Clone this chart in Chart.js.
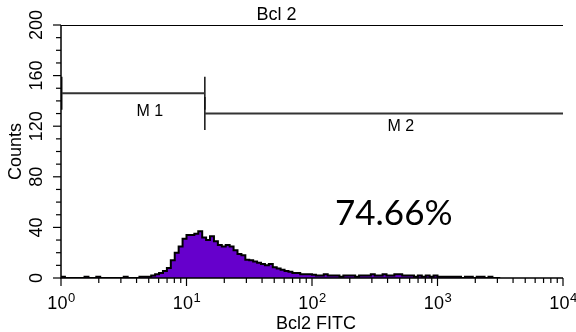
<!DOCTYPE html>
<html>
<head>
<meta charset="utf-8">
<script src="https://cdn.jsdelivr.net/npm/chart.js@4.4.1/dist/chart.umd.min.js"></script>
<style>
  html, body { margin: 0; padding: 0; background: #fff; }
  #wrap { width: 576px; height: 332px; position: relative; }
</style>
</head>
<body>
<div id="wrap"><canvas id="myChart"></canvas></div>
<script>
// histogram channels, 32 channels per decade starting at 10^0
var binsPerDecade = 32;
var counts = [
  1, 0, 0, 0, 0, 0, 1, 0, 0, 1, 0, 0, 0, 0, 0, 0,
  1, 0, 0, 0, 1, 1, 1, 2, 3, 4, 5.5, 8, 14, 20, 25, 31,
  34, 34, 35, 37, 32, 30, 33, 29, 26, 25, 26, 25, 22, 19, 18, 14.5,
  14, 13, 12, 11, 10, 11, 8.5, 7.5, 6.5, 5.5, 5, 4, 4, 3, 3, 3,
  2.5, 2, 2, 3, 2, 2, 2, 1, 2, 2, 2, 1, 2, 2, 2, 3,
  2, 2, 3, 2, 2, 3, 3, 2, 2, 2, 1, 2, 1, 2, 1, 2,
  1, 1, 1, 1, 1, 1, 0, 1, 1, 0, 1, 1, 0, 1, 0, 0
];

// gates
var markerNames = ["M 1", "M 2"];
var markerFrom = [1, 14];
var markerTo = [14, 10000];
var markerLevel = [146, 130];

// axes
var xTicks = [1, 10, 100, 1000, 10000];
var xTickExp = ["0", "1", "2", "3", "4"];
var yTicks = [0, 40, 80, 120, 160, 200];
var yTickLabels = ["0", "40", "80", "120", "160", "200"];

var chartTitle = "Bcl 2";
var xTitle = "Bcl2 FITC";
var yTitle = "Counts";
var gatePercent = "74.66%";

var points = [];
for (var i = 0; i < counts.length; i++) {
  points.push({x: Math.pow(10, i / binsPerDecade), y: counts[i]});
}
points.push({x: Math.pow(10, counts.length / binsPerDecade), y: 0});

var datasets = [{
  data: points,
  stepped: true,
  fill: 'origin',
  backgroundColor: '#6600cc',
  borderColor: '#000',
  borderWidth: 2,
  pointRadius: 0,
  order: 1
}];

// marker lines and their end bars
for (var m = 0; m < markerNames.length; m++) {
  datasets.push({
    data: [{x: markerFrom[m], y: markerLevel[m]}, {x: markerTo[m], y: markerLevel[m]}],
    borderColor: '#333', borderWidth: 2, pointRadius: 0, fill: false, order: 2
  });
  datasets.push({
    data: [{x: markerFrom[m], y: markerLevel[m] - 13}, {x: markerFrom[m], y: markerLevel[m] + 13}],
    borderColor: '#111', borderWidth: m == 0 ? 3 : 1.5, pointRadius: 0, fill: false, order: 2
  });
  if (markerTo[m] < 10000) {
    datasets.push({
      data: [{x: markerTo[m], y: markerLevel[m] - 13}, {x: markerTo[m], y: markerLevel[m] + 13}],
      borderColor: '#111', borderWidth: 1.5, pointRadius: 0, fill: false, order: 2
    });
  }
}

var markerLabelDy = [23, 17];

var flowAxes = {
  id: 'flowAxes',
  afterDraw: function(chart) {
    var ctx = chart.ctx;
    var a = chart.chartArea;
    var xs = chart.scales.x, ys = chart.scales.y;
    var i, px, py;
    ctx.save();
    ctx.strokeStyle = '#000';
    ctx.fillStyle = '#000';

    // frame: left + bottom axis, thin line on top
    ctx.lineWidth = 1.5;
    ctx.beginPath();
    ctx.moveTo(a.left, a.top);
    ctx.lineTo(a.left, a.bottom);
    ctx.lineTo(a.right, a.bottom);
    ctx.stroke();
    ctx.lineWidth = 1;
    ctx.beginPath();
    ctx.moveTo(a.left, a.top + 0.5);
    ctx.lineTo(a.right, a.top + 0.5);
    ctx.stroke();

    // y ticks, every 10, long ones at labels
    ctx.lineWidth = 1.2;
    for (var v = 0; v <= 200; v += 10) {
      py = ys.getPixelForValue(v);
      var len = (yTicks.indexOf(v) >= 0) ? 8 : 5;
      ctx.beginPath();
      ctx.moveTo(a.left - len, py);
      ctx.lineTo(a.left, py);
      ctx.stroke();
    }
    ctx.font = '18px "Liberation Sans", Arial, sans-serif';
    ctx.textAlign = 'center';
    ctx.textBaseline = 'alphabetic';
    for (i = 0; i < yTicks.length; i++) {
      py = ys.getPixelForValue(yTicks[i]);
      ctx.save();
      ctx.translate(a.left - 19, py);
      ctx.rotate(-Math.PI / 2);
      ctx.fillText(yTickLabels[i], 0, 0);
      ctx.restore();
    }

    // x ticks, decades plus 2..9
    for (i = 0; i < xTicks.length; i++) {
      px = xs.getPixelForValue(xTicks[i]);
      ctx.beginPath();
      ctx.moveTo(px, a.bottom);
      ctx.lineTo(px, a.bottom + 8);
      ctx.stroke();
      if (i < xTicks.length - 1) {
        for (var k = 2; k <= 9; k++) {
          var mx = xs.getPixelForValue(xTicks[i] * k);
          ctx.beginPath();
          ctx.moveTo(mx, a.bottom);
          ctx.lineTo(mx, a.bottom + 5);
          ctx.stroke();
        }
      }
    }
    ctx.textAlign = 'left';
    for (i = 0; i < xTicks.length; i++) {
      px = xs.getPixelForValue(xTicks[i]);
      ctx.font = '18px "Liberation Sans", Arial, sans-serif';
      var wBase = ctx.measureText("10").width;
      ctx.font = '13px "Liberation Sans", Arial, sans-serif';
      var wExp = ctx.measureText(xTickExp[i]).width;
      var x0 = px - (wBase + wExp) / 2;
      ctx.font = '18px "Liberation Sans", Arial, sans-serif';
      ctx.fillText("10", x0, a.bottom + 31);
      ctx.font = '13px "Liberation Sans", Arial, sans-serif';
      ctx.fillText(xTickExp[i], x0 + wBase + 0.5, a.bottom + 23.5);
    }

    // marker labels
    ctx.font = '16px "Liberation Sans", Arial, sans-serif';
    ctx.textAlign = 'center';
    for (i = 0; i < markerNames.length; i++) {
      var p1 = xs.getPixelForValue(markerFrom[i]);
      var p2 = xs.getPixelForValue(markerTo[i]);
      py = ys.getPixelForValue(markerLevel[i]);
      ctx.fillText(markerNames[i], (p1 + p2) / 2 + 17, py + markerLabelDy[i]);
    }

    // titles
    ctx.font = '18px "Liberation Sans", Arial, sans-serif';
    ctx.fillText(chartTitle, 276.5, 20);
    ctx.fillText(xTitle, 316, 329);
    ctx.save();
    ctx.translate(21, (a.top + a.bottom) / 2);
    ctx.rotate(-Math.PI / 2);
    ctx.fillText(yTitle, 0, 0);
    ctx.restore();

    // gated percentage
    ctx.font = '35px Lato, "Open Sans", sans-serif';
    ctx.textAlign = 'left';
    ctx.fillText(gatePercent, 335, 225);
    ctx.restore();
  }
};

var chart = new Chart(document.getElementById("myChart"), {
  type: 'line',
  data: { datasets: datasets },
  options: {
    responsive: true,
    maintainAspectRatio: false,
    animation: false,
    layout: { padding: { top: 25, right: 13, left: 0, bottom: 0 } },
    plugins: { legend: { display: false }, tooltip: { enabled: false } },
    scales: {
      x: {
        type: 'logarithmic', min: 1, max: 10000,
        ticks: { display: false }, grid: { display: false }, border: { display: false },
        afterFit: function(s) { s.height = 54; }
      },
      y: {
        min: 0, max: 200,
        ticks: { display: false }, grid: { display: false }, border: { display: false },
        afterFit: function(s) { s.width = 61; }
      }
    }
  },
  plugins: [flowAxes]
});
</script>
</body>
</html>
